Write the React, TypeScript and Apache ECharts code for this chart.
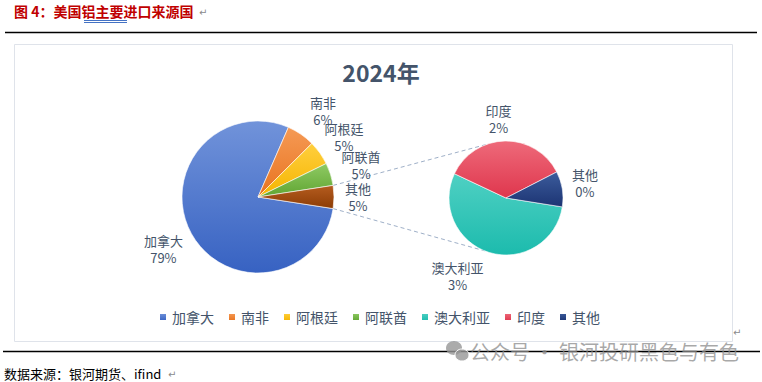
import React, { useEffect, useRef } from 'react';
import * as echarts from 'echarts';

const mainNames = ['加拿大', '南非', '阿根廷', '阿联酋', '其他'];
const mainValues = [79.1, 6.0, 5.2, 4.82, 4.88];
const subNames = ['澳大利亚', '印度', '其他'];
const subValues = [2.66, 1.73, 0.49];
const legendNames = ['加拿大', '南非', '阿根廷', '阿联酋', '澳大利亚', '印度', '其他'];
const chartTitle = '2024年';
const figureTitle = '图 4：美国铝主要进口来源国';
const sourceText = '数据来源：银河期货、ifind';
const watermarkText = '公众号 · 银河投研黑色与有色';

const mainColors = [
  ['#7193da', '#3762c2'],
  ['#f59a55', '#e8731f'],
  ['#ffcf3e', '#f5b400'],
  ['#8fca64', '#60a532'],
  ['#b55c1f', '#8c3c05'],
];
const subColors = [
  ['#4fd0c3', '#1cbbad'],
  ['#ee6a7a', '#df364d'],
  ['#3c5c9c', '#1c3473'],
];

const FONT = '"Noto Sans CJK SC", "Noto Sans", sans-serif';
const LABEL_COLOR = '#44546a';

const L = { cx: 258, cy: 197, r: 76 };
const R = { cx: 506, cy: 198, r: 57 };
const subStart = 351;

const mainLabelShift: Record<string, number[]> = { '南非': [4, 3], '阿根廷': [-2, 3], '其他': [-8, 0] };
const subLabelShift: Record<string, number[]> = { '澳大利亚': [-24, -1], '印度': [-6, 4], '其他': [-3, -2] };

function grad(c: string[]) {
  return new echarts.graphic.LinearGradient(0, 0, 0, 1, [
    { offset: 0, color: c[0] },
    { offset: 1, color: c[1] },
  ]);
}

export default function App() {
  const ref = useRef<HTMLDivElement>(null);
  useEffect(() => {
    document.body.style.margin = '0';
    const chart = echarts.init(ref.current!, null, { renderer: 'svg' });
    const mainTotal = mainValues.reduce((a, b) => a + b, 0);
    const otherSpan = (mainValues[mainValues.length - 1] / mainTotal) * 360;
    const mainStart = 360 - otherSpan / 2;
    const rad = (d: number) => (d * Math.PI) / 180;

    const p1a = [L.cx + L.r * Math.cos(rad(otherSpan / 2)), L.cy - L.r * Math.sin(rad(otherSpan / 2))];
    const p1b = [L.cx + L.r * Math.cos(rad(-otherSpan / 2)), L.cy - L.r * Math.sin(rad(-otherSpan / 2))];
    const p2a = [R.cx + R.r * Math.cos(rad(110)), R.cy - R.r * Math.sin(rad(110))];
    const p2b = [R.cx + R.r * Math.cos(rad(248)), R.cy - R.r * Math.sin(rad(248))];

    const labelStyle = {
      show: true,
      position: 'inside',
      color: LABEL_COLOR,
      fontSize: 13,
      lineHeight: 17,
      fontFamily: FONT,
      formatter: (p: any) => `${p.name}\n${Math.round(p.value)}%`,
    };

    const option: any = {
      animation: false,
      textStyle: { fontFamily: FONT },
      title: {
        text: chartTitle,
        left: 'center',
        top: 55,
        textStyle: { fontSize: 23, fontWeight: 'bold', color: LABEL_COLOR, fontFamily: FONT },
      },
      legend: {
        data: legendNames,
        left: 158,
        top: 310,
        padding: 0,
        icon: 'rect',
        itemWidth: 8,
        itemHeight: 8,
        itemGap: 13,
        textStyle: { fontSize: 14, color: LABEL_COLOR, fontFamily: FONT },
      },
      series: [
        {
          type: 'pie',
          center: [R.cx, R.cy],
          radius: R.r,
          startAngle: subStart,
          label: { show: false },
          labelLine: { show: false },
          emphasis: { disabled: true },
          itemStyle: { borderColor: '#ffffff', borderWidth: 0.6 },
          data: subNames.map((n, i) => ({ name: n, value: subValues[i], itemStyle: { color: grad(subColors[i]) } })),
        },
        {
          type: 'pie',
          center: [L.cx, L.cy],
          radius: L.r,
          startAngle: mainStart,
          label: { show: false },
          labelLine: { show: false },
          emphasis: { disabled: true },
          itemStyle: { borderColor: '#ffffff', borderWidth: 0.6 },
          data: mainNames.map((n, i) => ({ name: n, value: mainValues[i], itemStyle: { color: grad(mainColors[i]) } })),
        },
        {
          type: 'pie',
          center: [L.cx, L.cy],
          radius: [L.r + 23, L.r + 35],
          startAngle: mainStart,
          silent: true,
          avoidLabelOverlap: false,
          labelLayout: { hideOverlap: false },
          emphasis: { disabled: true },
          itemStyle: { color: 'rgba(0,0,0,0)' },
          labelLine: { show: false },
          label: labelStyle,
          data: mainNames.map((n, i) => ({
            name: n,
            value: mainValues[i],
            label: mainLabelShift[n] ? { offset: mainLabelShift[n] } : undefined,
          })),
        },
        {
          type: 'pie',
          center: [R.cx, R.cy],
          radius: [R.r + 15, R.r + 31],
          startAngle: subStart,
          silent: true,
          avoidLabelOverlap: false,
          labelLayout: { hideOverlap: false },
          emphasis: { disabled: true },
          itemStyle: { color: 'rgba(0,0,0,0)' },
          labelLine: { show: false },
          label: labelStyle,
          data: subNames.map((n, i) => ({
            name: n,
            value: subValues[i],
            label: subLabelShift[n] ? { offset: subLabelShift[n] } : undefined,
          })),
        },
      ],
      graphic: [
        { type: 'rect', z: -1, shape: { x: 14.5, y: 44.5, width: 718, height: 297 }, style: { fill: 'none', stroke: '#dfe3ea', lineWidth: 1 } },
        { type: 'line', shape: { x1: 5, y1: 32.5, x2: 757, y2: 32.5 }, style: { stroke: '#000', lineWidth: 1.5 } },
        { type: 'line', shape: { x1: 3, y1: 351.5, x2: 760, y2: 351.5 }, style: { stroke: '#000', lineWidth: 1.5 } },
        {
          type: 'text', left: 14, top: 4,
          style: { text: figureTitle, fill: '#c00000', font: `bold 14px ${FONT}` },
        },
        { type: 'line', shape: { x1: 84, y1: 20.5, x2: 127, y2: 20.5 }, style: { stroke: '#4472c4', lineWidth: 1 } },
        { type: 'line', shape: { x1: 84, y1: 22.5, x2: 127, y2: 22.5 }, style: { stroke: '#4472c4', lineWidth: 1 } },
        { type: 'text', left: 199, top: 7, style: { text: '↵', fill: '#8a8a8a', font: `10px "DejaVu Sans"` } },
        { type: 'text', left: 733, top: 327, style: { text: '↵', fill: '#8a8a8a', font: `10px "DejaVu Sans"` } },
        {
          type: 'text', left: 4, top: 367,
          style: { text: sourceText, fill: '#000', font: `13px ${FONT}`, lineHeight: 13 },
        },
        { type: 'text', left: 168, top: 369, style: { text: '↵', fill: '#8a8a8a', font: `10px "DejaVu Sans"` } },
        { type: 'ellipse', shape: { cx: 454, cy: 348, rx: 8, ry: 7 }, style: { fill: 'rgba(150,150,150,0.8)' } },
        { type: 'ellipse', shape: { cx: 462, cy: 355, rx: 7, ry: 6 }, style: { fill: 'rgba(150,150,150,0.8)', stroke: '#fff', lineWidth: 1 } },
        {
          type: 'text', left: 470, top: 341,
          style: { text: watermarkText, fill: 'rgba(140,140,140,0.75)', font: `20px ${FONT}`, lineHeight: 20 },
        },
        { type: 'line', shape: { x1: p1a[0], y1: p1a[1], x2: p2a[0], y2: p2a[1] }, style: { stroke: '#9fb0c8', lineWidth: 1, lineDash: [4, 3] } },
        { type: 'line', shape: { x1: p1b[0], y1: p1b[1], x2: p2b[0], y2: p2b[1] }, style: { stroke: '#9fb0c8', lineWidth: 1, lineDash: [4, 3] } },
      ],
    };
    chart.setOption(option);
    return () => chart.dispose();
  }, []);
  return <div ref={ref} style={{ position: 'fixed', left: 0, top: 0, width: 762, height: 382, background: '#fff' }} />;
}
